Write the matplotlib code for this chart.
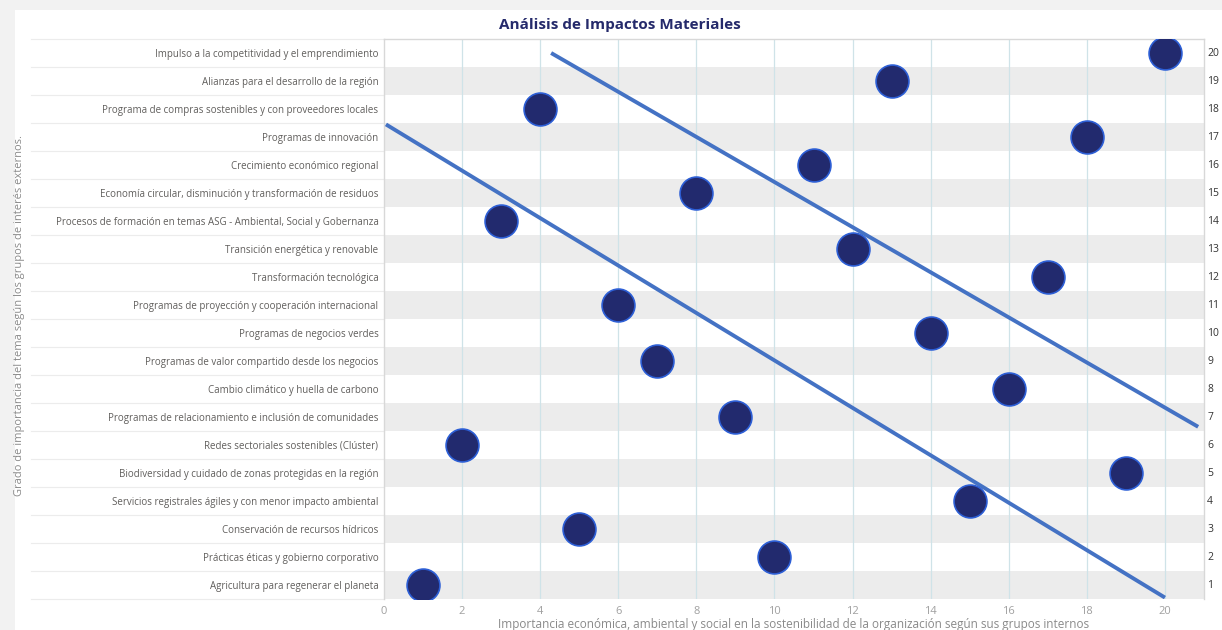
import matplotlib.pyplot as plt
from matplotlib.patches import Rectangle

plt.rcParams['font.family'] = ['Open Sans', 'DejaVu Sans']

# --- DATA ---
topics = [
    'Agricultura para regenerar el planeta',
    'Prácticas éticas y gobierno corporativo',
    'Conservación de recursos hídricos',
    'Servicios registrales ágiles y con menor impacto ambiental',
    'Biodiversidad y cuidado de zonas protegidas en la región',
    'Redes sectoriales sostenibles (Clúster)',
    'Programas de relacionamiento e inclusión de comunidades',
    'Cambio climático y huella de carbono',
    'Programas de valor compartido desde los negocios',
    'Programas de negocios verdes',
    'Programas de proyección y cooperación internacional',
    'Transformación tecnológica',
    'Transición energética y renovable',
    'Procesos de formación en temas ASG - Ambiental, Social y Gobernanza',
    'Economía circular, disminución y transformación de residuos',
    'Crecimiento económico regional',
    'Programas de innovación',
    'Programa de compras sostenibles y con proveedores locales',
    'Alianzas para el desarrollo de la región',
    'Impulso a la competitividad y el emprendimiento',
]
external_rank = list(range(1, 21))
internal_score = [1, 10, 5, 15, 19, 2, 9, 16, 7, 14, 6, 17, 12, 3, 8, 11, 18, 4, 13, 20]

# threshold lines (x, y endpoints)
upper_x = [4.28, 20.85]
upper_y = [20.0, 6.65]
lower_x = [0.05, 20.0]
lower_y = [17.45, 0.55]

NAVY = '#222a6e'
EDGE = '#2d5fd6'
LINE = '#4472c4'
GRAY = '#605e5c'

fig = plt.figure(figsize=(12.22, 6.3), dpi=100)
fig.patch.set_facecolor('#f2f2f2')
fig.add_artist(Rectangle((15 / 1222, 0), 1207 / 1222, 620 / 630,
                         transform=fig.transFigure, facecolor='white',
                         edgecolor='none', zorder=0))

ax = fig.add_axes([384 / 1222, 31 / 630, 820 / 1222, 560 / 630])
ax.set_xlim(0, 21)
ax.set_ylim(0.5, 20.5)

# row banding
for r in external_rank:
    if r % 2 == 1:
        ax.axhspan(r - 0.5, r + 0.5, color='#ececec', lw=0, zorder=0)
    ax.plot([-0.43, 0], [r - 0.5, r - 0.5], transform=ax.get_yaxis_transform(),
            color='#ececec', lw=0.8, clip_on=False, zorder=0)
ax.plot([-0.43, 0], [20.5, 20.5], transform=ax.get_yaxis_transform(),
        color='#ececec', lw=0.8, clip_on=False, zorder=0)

for gx in range(2, 21, 2):
    ax.axvline(gx, color='#cfe3e8', lw=0.9, zorder=1)

ax.plot(upper_x, upper_y, color=LINE, lw=2.8, zorder=3, solid_capstyle='butt')
ax.plot(lower_x, lower_y, color=LINE, lw=2.8, zorder=3, solid_capstyle='butt')

ax.scatter(internal_score, external_rank, s=560, color=NAVY, edgecolor=EDGE,
           linewidth=1.2, zorder=4)

ax.set_yticks(external_rank)
ax.set_yticklabels(topics, fontsize=7, color=GRAY)
ax.set_xticks(range(0, 21, 2))
ax.tick_params(axis='x', labelsize=8, colors='#a0a0a0', length=0, pad=5)
ax.tick_params(axis='y', length=0, pad=4)

ax.spines['bottom'].set_visible(False)
for sp in ['top', 'left', 'right']:
    ax.spines[sp].set_color('#d8d8d8')
    ax.spines[sp].set_linewidth(1)

# right side rank numbers
for r in external_rank:
    ax.text(1.004, r, str(r), transform=ax.get_yaxis_transform(),
            va='center', ha='left', fontsize=7.5, color='#333333')

ax.set_xlabel('Importancia económica, ambiental y social en la sostenibilidad de la organización según sus grupos internos',
              fontsize=8.5, color='#8a8a8a', labelpad=1)
fig.text(20 / 1222, 0.5, 'Grado de importancia del tema según los grupos de interés externos.',
         rotation=90, va='center', ha='center', fontsize=8, color='#8a8a8a')
fig.text(620 / 1222, 1 - 25 / 630, 'Análisis de Impactos Materiales',
         ha='center', va='center', fontsize=11, fontweight='bold', color='#252a6b')

fig.savefig('out.png', dpi=100)
